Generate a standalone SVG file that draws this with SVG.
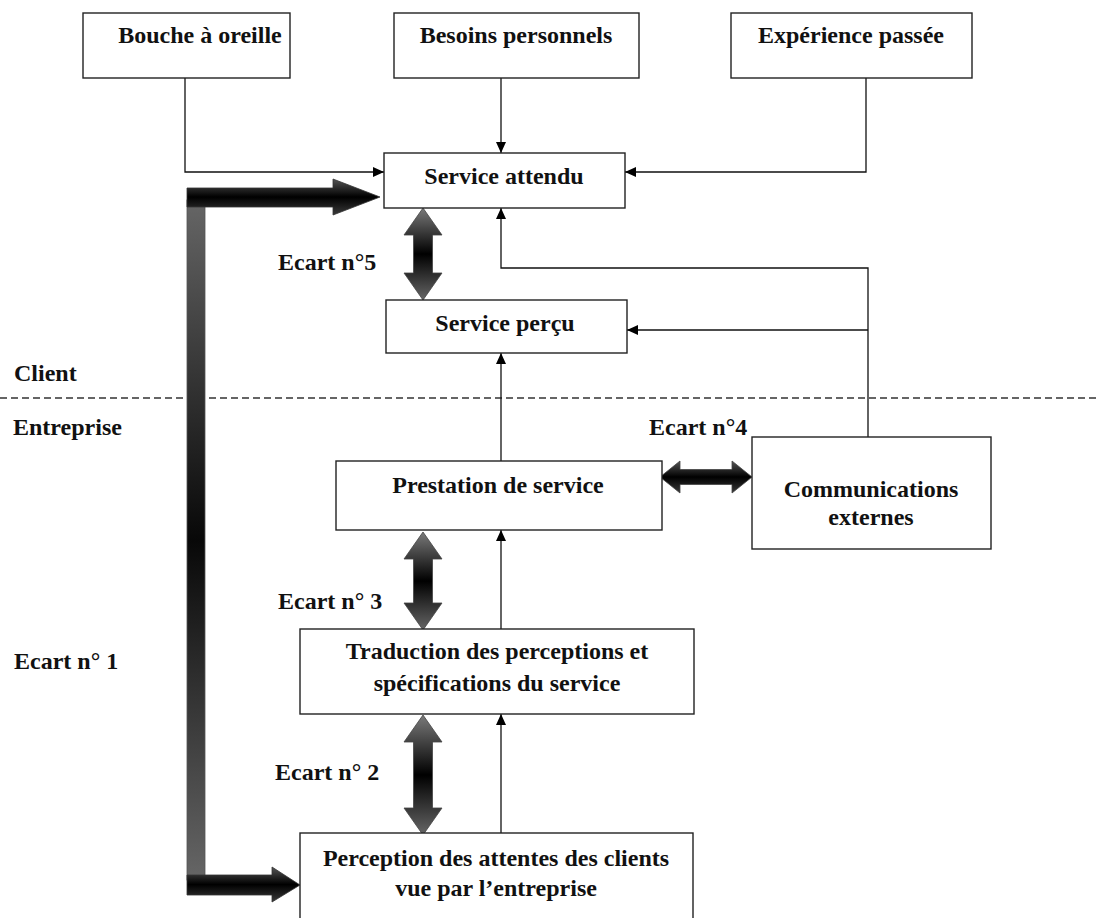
<svg xmlns="http://www.w3.org/2000/svg" width="1100" height="918" viewBox="0 0 1100 918">
<defs>
<style>
.box{fill:#fff;stroke:#222;stroke-width:1.4}
.t{font-family:"Liberation Serif","Times New Roman",serif;font-weight:bold;font-size:24px;fill:#111}
.c{text-anchor:middle}
.ln{fill:none;stroke:#111;stroke-width:1.3}
.dbl{stroke:#444;stroke-width:0.8}
</style>
<marker id="ah" markerUnits="userSpaceOnUse" markerWidth="12" markerHeight="10" refX="11" refY="5" orient="auto">
<path d="M0,0 L11,5 L0,10 z" fill="#000"/>
</marker>
<linearGradient id="gv" x1="0" y1="0" x2="0" y2="1">
<stop offset="0" stop-color="#7a7a7a"/><stop offset="0.5" stop-color="#000"/><stop offset="1" stop-color="#666"/>
</linearGradient>
<linearGradient id="gh" x1="0" y1="0" x2="0" y2="1">
<stop offset="0" stop-color="#555"/><stop offset="0.5" stop-color="#000"/><stop offset="1" stop-color="#3a3a3a"/>
</linearGradient>
<linearGradient id="gbar" gradientUnits="userSpaceOnUse" x1="0" y1="200" x2="0" y2="880">
<stop offset="0" stop-color="#666"/><stop offset="0.5" stop-color="#080808"/><stop offset="1" stop-color="#666"/>
</linearGradient>
</defs>

<line x1="0" y1="398" x2="1100" y2="398" stroke="#333" stroke-width="1.6" stroke-dasharray="7 4"/>

<g id="connectors">
<path class="ln" d="M185,78 V172 H384" marker-end="url(#ah)"/>
<path class="ln" d="M501,78 V153" marker-end="url(#ah)"/>
<path class="ln" d="M866,78 V172 H625" marker-end="url(#ah)"/>
<path class="ln" d="M868,437 V268 H501 V208" marker-end="url(#ah)"/>
<path class="ln" d="M868,330 H627" marker-end="url(#ah)"/>
<path class="ln" d="M501,461 V353" marker-end="url(#ah)"/>
<path class="ln" d="M501,629 V530" marker-end="url(#ah)"/>
<path class="ln" d="M501,833 V714" stroke="#555" marker-end="url(#ah)"/>
<rect x="187" y="200" width="18" height="680" fill="url(#gbar)" stroke="#555" stroke-width="0.8"/>
<polygon points="187,188 333,188 333,179 380,197 333,215 333,207 187,207" fill="url(#gh)" stroke="#333" stroke-width="0.8"/>
<polygon points="187,875 272,875 272,867 300,885 272,902 272,895 187,895" fill="url(#gh)" stroke="#333" stroke-width="0.8"/>
<polygon class="dbl" fill="url(#gv)" points="423,208 442,235 432.5,235 432.5,273 442,273 423,300 404,273 413.5,273 413.5,235 404,235"/>
<polygon class="dbl" fill="url(#gv)" points="423,532 442,559 432.5,559 432.5,603 442,603 423,630 404,603 413.5,603 413.5,559 404,559"/>
<polygon class="dbl" fill="url(#gv)" points="423,715 442,742 432.5,742 432.5,808 442,808 423,835 404,808 413.5,808 413.5,742 404,742"/>
<polygon class="dbl" fill="url(#gh)" points="660,477 680,461 680,469.5 732,469.5 732,461 752,477 732,493 732,484.5 680,484.5 680,493"/>
</g>

<g id="bouche"><rect class="box" x="83" y="13" width="207" height="65"/><text class="t c" x="200" y="43">Bouche à oreille</text></g>
<g id="besoins"><rect class="box" x="394" y="13" width="245" height="65"/><text class="t c" x="516" y="43">Besoins personnels</text></g>
<g id="experience"><rect class="box" x="731" y="13" width="241" height="65"/><text class="t c" x="851" y="43">Expérience passée</text></g>
<g id="attendu"><rect class="box" x="384" y="153" width="241" height="55"/><text class="t c" x="504" y="184">Service attendu</text></g>
<g id="percu"><rect class="box" x="386" y="300" width="241" height="53"/><text class="t c" x="505" y="331">Service perçu</text></g>
<g id="prestation"><rect class="box" x="336" y="461" width="326" height="69"/><text class="t c" x="498" y="493">Prestation de service</text></g>
<g id="communications"><rect class="box" x="752" y="437" width="239" height="112"/><text class="t c" x="871" y="497">Communications</text><text class="t c" x="871" y="525">externes</text></g>
<g id="traduction"><rect class="box" x="300" y="629" width="394" height="85"/><text class="t c" x="497" y="659">Traduction des perceptions et</text><text class="t c" x="497" y="691">spécifications du service</text></g>
<g id="perception"><rect class="box" x="300" y="833" width="393" height="90"/><text class="t c" x="496" y="866">Perception des attentes des clients</text><text class="t c" x="496" y="896">vue par l’entreprise</text></g>

<g id="labels">
<text class="t" x="14" y="381">Client</text>
<text class="t" x="13" y="435">Entreprise</text>
<text class="t" x="278" y="270">Ecart n°5</text>
<text class="t" x="649" y="435">Ecart n°4</text>
<text class="t" x="278" y="609">Ecart n° 3</text>
<text class="t" x="14" y="669">Ecart n° 1</text>
<text class="t" x="275" y="780">Ecart n° 2</text>
</g>
</svg>
